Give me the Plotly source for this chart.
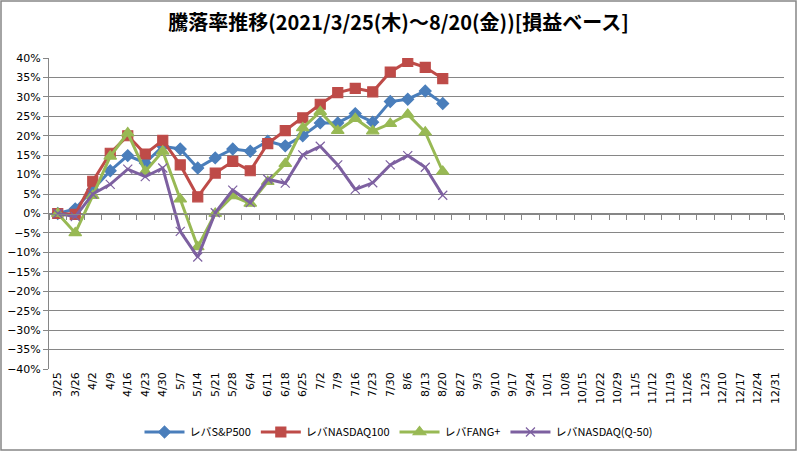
import plotly.graph_objects as go

categories = ["3/25", "3/26", "4/2", "4/9", "4/16", "4/23", "4/30", "5/7", "5/14", "5/21",
              "5/28", "6/4", "6/11", "6/18", "6/25", "7/2", "7/9", "7/16", "7/23", "7/30",
              "8/6", "8/13", "8/20", "8/27", "9/3", "9/10", "9/17", "9/24", "10/1", "10/8",
              "10/15", "10/22", "10/29", "11/5", "11/12", "11/19", "11/26", "12/3", "12/10",
              "12/17", "12/24", "12/31"]

sp500 = [0, 1.2, 6.2, 11, 14.9, 13, 17.3, 16.6, 11.7, 14.3, 16.6, 16, 18.6, 17.4, 20,
         23.3, 23.3, 25.7, 23.5, 28.8, 29.4, 31.5, 28.3]
nasdaq100 = [0, -0.2, 8.3, 15.5, 20, 15.3, 18.8, 12.5, 4.3, 10.4, 13.4, 11, 18, 21.3, 24.6,
             28.1, 31.1, 32.2, 31.3, 36.4, 39.1, 37.6, 34.7]
fangplus = [0, -5, 4.6, 14.7, 20.7, 10.8, 16, 3.7, -8.6, 0, 4.5, 2.6, 8.2, 12.8, 22,
            26.2, 21.3, 24.4, 21.2, 23.1, 25.5, 20.9, 10.8]
q50 = [0, -0.8, 5, 7.5, 11.4, 9.5, 11.7, -4.6, -11.2, 0.2, 6, 2.8, 8.8, 7.8, 15.1,
       17.3, 12.5, 6.2, 7.9, 12.5, 14.9, 11.9, 4.7]

series = [
    ("レバS&P500", sp500, "#4A7EBB", "diamond", 9),
    ("レバNASDAQ100", nasdaq100, "#BE4B48", "square", 10),
    ("レバFANG+", fangplus, "#98B954", "triangle-up", 11),
    ("レバNASDAQ(Q-50)", q50, "#7D60A0", "x-thin", 9),
]

fig = go.Figure()
for name, vals, color, sym, size in series:
    fig.add_trace(go.Scatter(
        x=categories[:len(vals)], y=vals, name=name, mode="lines+markers",
        line=dict(color=color, width=3),
        marker=dict(symbol=sym, size=size, color=color,
                    line=dict(color=color, width=1.2)),
    ))

# axis crossing at 0 with tick marks (Excel style)
fig.add_trace(go.Scatter(x=categories, y=[None] * len(categories), xaxis="x2",
                         showlegend=False, hoverinfo="skip"))

W, H = 797, 451
ml, mr, mt, mb = 49, 13, 58, 82
pw, ph = W - ml - mr, H - mt - mb

font_family = "Noto Sans CJK JP, DejaVu Sans, sans-serif"

fig.update_layout(
    width=W, height=H,
    margin=dict(l=ml, r=mr, t=mt, b=mb, autoexpand=False),
    paper_bgcolor="white", plot_bgcolor="white",
    title=dict(text="<b>騰落率推移(2021/3/25(木)～8/20(金))[損益ベース]</b>",
               x=0.5, xanchor="center", xref="container", yref="container",
               y=1 - 23 / H, yanchor="middle",
               font=dict(family=font_family, size=20, color="black")),
    font=dict(family=font_family, color="black"),
    xaxis=dict(type="category", categoryorder="array", categoryarray=categories,
               range=[-0.5, len(categories) - 0.5], showgrid=False, showline=False,
               ticks="", tickangle=-90, automargin=False,
               tickfont=dict(family="DejaVu Sans, sans-serif", size=11, color="black"),
               zeroline=False),
    xaxis2=dict(type="category", categoryorder="array", categoryarray=categories,
                range=[-0.5, len(categories) - 0.5], overlaying="x", anchor="free",
                position=0.5, showline=True, linecolor="#868686", linewidth=1,
                ticks="outside", ticklen=5, tickcolor="#868686", tickson="boundaries",
                showticklabels=False, showgrid=False, automargin=False),
    yaxis=dict(range=[-40, 40], dtick=5, ticksuffix="%", showgrid=True,
               gridcolor="#868686", gridwidth=1, showline=True, linecolor="#868686",
               linewidth=1, ticks="outside", ticklen=5, tickcolor="#868686",
               zeroline=False, automargin=False,
               tickfont=dict(family="DejaVu Sans, sans-serif", size=11, color="black")),
    legend=dict(orientation="h", xref="container", x=0.5, xanchor="center",
                yref="container", y=(H - 432) / H, yanchor="middle",
                font=dict(family=font_family, size=11, color="black"),
                itemwidth=40, tracegroupgap=0, bgcolor="rgba(0,0,0,0)"),
    showlegend=True,
)

# outer chart border
fig.add_shape(type="rect", xref="paper", yref="paper",
              x0=-(ml - 1) / pw, x1=1 + (mr - 1) / pw,
              y0=-(mb - 1) / ph, y1=1 + (mt - 1) / ph,
              line=dict(color="#868686", width=1.5), fillcolor="rgba(0,0,0,0)", layer="below")

fig.write_html("out.html", config={"displayModeBar": False},
               post_script="document.body.style.margin='0';document.body.style.overflow='hidden';")
